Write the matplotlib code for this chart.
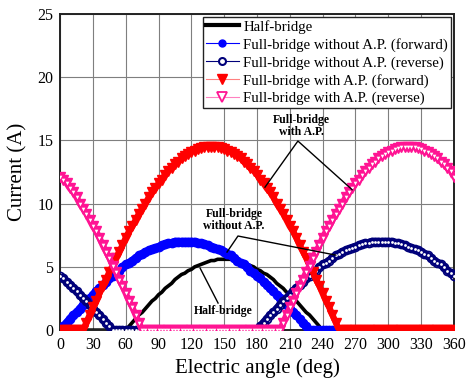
import numpy as np
import matplotlib
matplotlib.use("Agg")
import matplotlib.pyplot as plt
from matplotlib.lines import Line2D

# Electric angle grid (deg)
angle = np.arange(0, 361, 3)

half_bridge = (
    [0.0] * 20
    + [0.0, 0.3, 0.6, 0.9, 1.2, 1.4, 1.7, 2.0, 2.3, 2.5, 2.8, 3.0, 3.3, 3.5, 3.7, 4.0,
       4.2, 4.4, 4.5, 4.7, 4.8, 5.0, 5.1, 5.2, 5.3, 5.4, 5.5, 5.5, 5.6, 5.6, 5.6,
       5.6, 5.6, 5.5, 5.5, 5.4, 5.3, 5.2, 5.1, 5.0, 4.8, 4.7, 4.5, 4.4, 4.2, 4.0,
       3.7, 3.5, 3.3, 3.0, 2.8, 2.5, 2.3, 2.0, 1.7, 1.4, 1.2, 0.9, 0.6, 0.3, 0.0]
    + [0.0] * 40
)

fb_forward = (
    [0.0, 0.3, 0.6, 0.9, 1.2, 1.4, 1.7, 2.0, 2.3, 2.5, 2.8, 3.1, 3.3, 3.6, 3.8, 4.1,
     4.3, 4.5, 4.7, 5.0, 5.2, 5.3, 5.5, 5.7, 5.9, 6.0, 6.2, 6.3, 6.4, 6.5, 6.6, 6.7,
     6.8, 6.9, 6.9, 7.0, 7.0, 7.0, 7.0,
     7.0, 7.0, 7.0, 6.9, 6.9, 6.8, 6.7, 6.6, 6.5, 6.4, 6.3, 6.2, 6.0, 5.9, 5.7, 5.5,
     5.3, 5.2, 5.0, 4.7, 4.5, 4.3, 4.1, 3.8, 3.6, 3.3, 3.1, 2.8, 2.5, 2.3, 2.0, 1.7,
     1.4, 1.2, 0.9, 0.6, 0.3, 0.0]
    + [0.0] * 44
)

fb_reverse = (
    [4.3, 4.1, 3.8, 3.6, 3.3, 3.1, 2.8, 2.5, 2.3, 2.0, 1.7, 1.4, 1.2, 0.9, 0.6, 0.3, 0.0]
    + [0.0] * 43
    + [0.0, 0.3, 0.6, 0.9, 1.2, 1.4, 1.7, 2.0, 2.3, 2.5, 2.8, 3.1, 3.3, 3.6, 3.8, 4.1,
       4.3, 4.5, 4.7, 5.0, 5.2, 5.3, 5.5, 5.7, 5.9, 6.0, 6.2, 6.3, 6.4, 6.5, 6.6, 6.7,
       6.8, 6.9, 6.9, 7.0, 7.0, 7.0, 7.0,
       7.0, 7.0, 7.0, 6.9, 6.9, 6.8, 6.7, 6.6, 6.5, 6.4, 6.3, 6.2, 6.0, 5.9, 5.7, 5.5,
       5.3, 5.2, 5.0, 4.7, 4.5, 4.3]
)

ap_forward = (
    [0.0] * 7
    + [0.0, 0.6, 1.2, 1.8, 2.3, 2.9, 3.5, 4.0, 4.6, 5.1, 5.7, 6.2, 6.7, 7.3, 7.8, 8.2,
       8.7, 9.2, 9.6, 10.0, 10.5, 10.9, 11.2, 11.6, 11.9, 12.3, 12.6, 12.8, 13.1, 13.3,
       13.6, 13.8, 13.9, 14.1, 14.2, 14.3, 14.4, 14.5, 14.5, 14.5,
       14.5, 14.5, 14.4, 14.3, 14.2, 14.1, 13.9, 13.8, 13.6, 13.3, 13.1, 12.8, 12.6,
       12.3, 11.9, 11.6, 11.2, 10.9, 10.5, 10.0, 9.6, 9.2, 8.7, 8.2, 7.8, 7.3, 6.7,
       6.2, 5.7, 5.1, 4.6, 4.0, 3.5, 2.9, 2.3, 1.8, 1.2, 0.6, 0.0]
    + [0.0] * 35
)

ap_reverse = (
    [12.1, 11.9, 11.6, 11.2, 10.9, 10.5, 10.0, 9.6, 9.2, 8.7, 8.2, 7.8, 7.3, 6.7,
     6.2, 5.7, 5.1, 4.6, 4.0, 3.5, 2.9, 2.3, 1.8, 1.2, 0.6, 0.0]
    + [0.0] * 41
    + [0.0, 0.6, 1.2, 1.8, 2.3, 2.9, 3.5, 4.0, 4.6, 5.1, 5.7, 6.2, 6.7, 7.3, 7.8, 8.2,
       8.7, 9.2, 9.6, 10.0, 10.5, 10.9, 11.2, 11.6, 11.9, 12.3, 12.6, 12.8, 13.1, 13.3,
       13.6, 13.8, 13.9, 14.1, 14.2, 14.3, 14.4, 14.5, 14.5, 14.5,
       14.5, 14.5, 14.4, 14.3, 14.2, 14.1, 13.9, 13.8, 13.6, 13.3, 13.1, 12.8, 12.6, 12.1]
)

x_ticks = list(range(0, 361, 30))
y_ticks = [0, 5, 10, 15, 20, 25]

labels = ['Half-bridge',
          'Full-bridge without A.P. (forward)',
          'Full-bridge without A.P. (reverse)',
          'Full-bridge with A.P. (forward)',
          'Full-bridge with A.P. (reverse)']

BLUE = '#0000ff'
NAVY = '#00007a'
RED = '#ff0000'
PINK = '#ff1493'

plt.rcParams['font.family'] = ['Liberation Serif', 'DejaVu Serif']

fig = plt.figure(figsize=(4.66, 3.87), dpi=100)
ax = fig.add_axes([0.129, 0.147, 0.845, 0.817])

ax.grid(True, color='#7f7f7f', linewidth=0.8, zorder=0)
ax.set_axisbelow(True)

# Half-bridge
ax.plot(angle, half_bridge, color='black', lw=2.6, zorder=2, solid_capstyle='butt')

# Full-bridge without A.P. (forward): dense filled circles
ax.plot(angle, fb_forward, color=BLUE, lw=5.5, zorder=3, solid_capstyle='butt')
ax.plot(angle, fb_forward, ls='none', marker='o', ms=6, mfc=BLUE, mec=BLUE, zorder=3)

# Full-bridge without A.P. (reverse): dense hollow circles
ax.plot(angle, fb_reverse, color=NAVY, lw=5.5, zorder=3.2, solid_capstyle='butt')
ax.plot(angle, fb_reverse, ls='none', marker='o', ms=5.8, mfc='none', mec=NAVY, mew=1.2, zorder=3.2)
ax.plot(angle, fb_reverse, ls='none', marker='o', ms=2.0, mfc='white', mec='none', zorder=3.3)

# Full-bridge with A.P. (forward): dense filled down-triangles
ax.plot(angle, ap_forward, color=RED, lw=4.5, zorder=4, solid_capstyle='butt')
ax.plot(angle, ap_forward, ls='none', marker='v', ms=7.5, mfc=RED, mec=RED, zorder=4)

# Full-bridge with A.P. (reverse): dense hollow down-triangles
ax.plot(angle, ap_reverse, color=PINK, lw=4.5, zorder=4.2, solid_capstyle='butt')
ax.plot(angle, ap_reverse, ls='none', marker='v', ms=7.5, mfc=PINK, mec=PINK, zorder=4.2)
ax.plot(angle, ap_reverse, ls='none', marker='v', ms=2.6, mfc='white', mec='none', zorder=4.3)

ax.set_xlim(0, 360)
ax.set_ylim(0, 25)
ax.set_xticks(x_ticks)
ax.set_yticks(y_ticks)
ax.tick_params(axis='both', labelsize=11.5, direction='in', length=0, pad=5)
for s in ax.spines.values():
    s.set_linewidth(1.4)
    s.set_color('#222222')

ax.set_xlabel('Electric angle (deg)', fontsize=15, labelpad=4)
ax.set_ylabel('Current (A)', fontsize=15, labelpad=7)

handles = [
    Line2D([], [], color='black', lw=3.0),
    Line2D([], [], color=BLUE, lw=0.8, marker='o', ms=5, mfc=BLUE, mec=BLUE),
    Line2D([], [], color=NAVY, lw=0.8, marker='o', ms=5, mfc='white', mec=NAVY, mew=1.5),
    Line2D([], [], color='#ff8080', lw=0.8, marker='v', ms=6.5, mfc=RED, mec=RED),
    Line2D([], [], color='#ff80c0', lw=0.8, marker='v', ms=6.5, mfc='white', mec=PINK, mew=1.3),
]
leg = ax.legend(handles, labels, loc='upper right', fontsize=10.7, frameon=True,
                fancybox=False, edgecolor='#222222', framealpha=1, borderpad=0.2,
                labelspacing=0.28, handlelength=2.2, handletextpad=0.3,
                borderaxespad=0.2)
leg.get_frame().set_linewidth(1.0)
leg.set_zorder(10)

# Annotations
ann_kw = dict(fontsize=8.5, fontweight='bold', ha='center', va='center', zorder=6)
ax.text(221, 16.1, 'Full-bridge\nwith A.P.', linespacing=1.0, **ann_kw)
ax.plot([187.3, 217.4, 267.0], [11.3, 14.95, 11.1], color='black', lw=1.0, zorder=6)

ax.text(159, 8.7, 'Full-bridge\nwithout A.P.', linespacing=1.0, **ann_kw)
ax.plot([152.6, 162.6, 252.0], [6.17, 7.44, 5.93], color='black', lw=1.0, zorder=6)

ax.text(149, 1.5, 'Half-bridge', **ann_kw)
ax.plot([128.0, 144.4], [4.9, 2.14], color='black', lw=1.0, zorder=6)

fig.savefig('out.png', dpi=100)
